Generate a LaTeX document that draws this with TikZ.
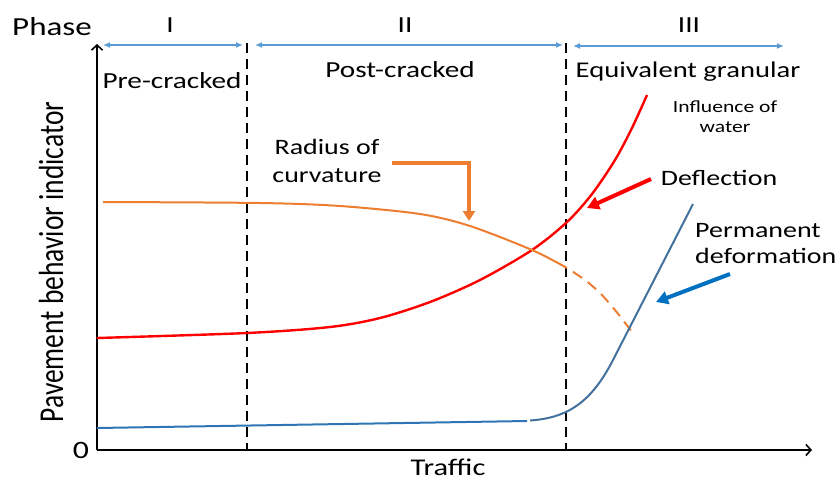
\documentclass[tikz,border=0pt]{standalone}
\usepackage{fontspec}
\setmainfont{Carlito}[FakeStretch=1.27]
\newfontfamily\rotfont{Carlito}
\usetikzlibrary{arrows.meta}
\definecolor{phaseblue}{HTML}{5B9BD5}
\definecolor{curvered}{HTML}{FF0000}
\definecolor{curveorange}{HTML}{ED7D31}
\definecolor{pdflat}{HTML}{2E75B6}
\definecolor{pdcurve}{HTML}{41719C}
\definecolor{arrowblue}{HTML}{0070C0}
\tikzset{
  lbl/.style={inner sep=0pt, anchor=base, font=\fontsize{23}{27}\selectfont},
  small/.style={inner sep=0pt, anchor=base, align=center, font=\fontsize{17}{20}\selectfont},
  axisline/.style={line width=2pt, -{Straight Barb[length=5pt,width=11pt,line width=1.6pt]}},
  phasearrow/.style={draw=phaseblue, line width=1.6pt, {Latex[length=7pt,width=6pt]}-{Latex[length=7pt,width=6pt]}},
  divider/.style={line width=2.4pt, dash pattern=on 10pt off 6pt},
  annot/.style={line width=4pt, -{Triangle[length=12pt,width=13pt]}},
}
\begin{document}
\begin{tikzpicture}[x=1pt,y=-1pt]
\useasboundingbox (0,0) rectangle (840,480);
% axes
\coordinate (O) at (97,450);
\coordinate (ytop) at (97,44);
\coordinate (xend) at (812,450);
\draw[axisline] (O) -- (ytop);
\draw[axisline] (O) -- (xend);
% dividers
\coordinate (d1t) at (247,43);
\coordinate (d1b) at (247,450);
\coordinate (d2t) at (566,43);
\coordinate (d2b) at (566,450);
\draw[divider] (d1t) -- (d1b);
\draw[divider] (d2t) -- (d2b);
% phase arrows
\coordinate (a1s) at (103,45); \coordinate (a1e) at (243,45);
\coordinate (a2s) at (255,45); \coordinate (a2e) at (563,45);
\coordinate (a3s) at (573,46); \coordinate (a3e) at (784,46);
\draw[phasearrow] (a1s) -- (a1e);
\draw[phasearrow] (a2s) -- (a2e);
\draw[phasearrow] (a3s) -- (a3e);
% texts
\node[lbl, font=\fontsize{26}{30}\selectfont] (phase) at (52,35) {Phase};
\node[lbl] (ph1) at (170,32) {I};
\node[lbl] (ph2) at (405,32) {II};
\node[lbl] (ph3) at (689,32) {III};
\node[lbl] (pre) at (172,88) {Pre-cracked};
\node[lbl] (post) at (400,77) {Post-cracked};
\node[lbl, font=\fontsize{22.5}{27}\selectfont] (gran) at (688,77) {Equivalent granular};
\node[small] (water) at (725,132) {Influence of\\water};
\node[lbl, align=center, font=\fontsize{22}{28}\selectfont] (radius) at (327,182) {Radius of\\curvature};
\node[lbl, font=\fontsize{22}{27}\selectfont] (defl) at (719,185) {Deflection};
\node[inner sep=0pt, anchor=base west, align=left, font=\fontsize{22}{26}\selectfont] (perm) at (695,263) {Permanent\\deformation};
\node[lbl, font=\fontsize{24}{28}\selectfont] (traffic) at (448,475) {Traffic};
\node[lbl, font=\fontsize{25}{28}\selectfont] (zero) at (81,458) {0};
\node[inner sep=0pt, anchor=base, rotate=90, yscale=1.27, font=\rotfont\fontsize{27.5}{30}\selectfont] (ylab) at (63,262) {Pavement behavior indicator};
% curves
\draw[curvered, line width=2.4pt] plot[smooth] coordinates {(97,338) (247,333) (330,327) (380,318) (430,302) (480,280) (532,250) (567,222) (592,194) (615,160) (632,128) (647,95)};
\draw[curveorange, line width=2pt] plot[smooth] coordinates {(103,202) (260,203) (340,206) (420,214) (470,226) (532,250) (567,268)};
\draw[curveorange, line width=2pt, dash pattern=on 11pt off 7pt, dash phase=11pt] plot[smooth] coordinates {(567,268) (585,280) (600,293) (615,310) (632,332)};
\draw[pdflat, line width=2pt] (O) ++(0,-22) coordinate (b0) -- (527,421) coordinate (b1);
\draw[pdcurve, line width=2pt] (530,420.5) coordinate (b2) .. controls (565,418) and (590,405) .. (613,360) -- (693,204) coordinate (b3);
% annotation arrows
\coordinate (rs) at (651,179); \coordinate (re) at (587,208);
\draw[annot, curvered] (rs) -- (re);
\coordinate (bs) at (730,274); \coordinate (be) at (656,302);
\draw[annot, arrowblue] (bs) -- (be);
\coordinate (os) at (392,163); \coordinate (oe) at (469,221);
\draw[curveorange, line width=3.5pt, -{Triangle[length=10pt,width=12pt]}] (os) -| (oe);
\end{tikzpicture}
\end{document}
